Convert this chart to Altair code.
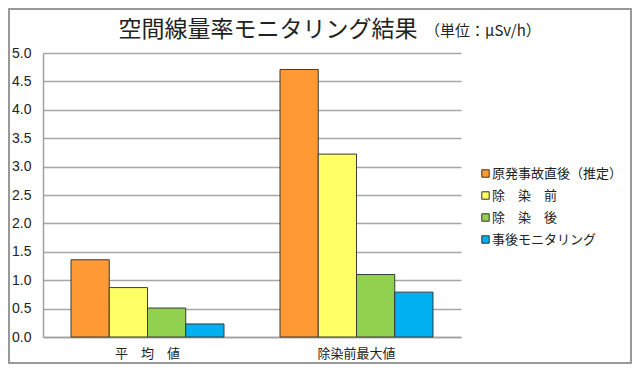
import altair as alt
import pandas as pd

categories = ["平　均　値", "除染前最大値"]
series = ["原発事故直後（推定）", "除　染　前", "除　染　後", "事後モニタリング"]
values_accident = [1.36, 4.71]
values_before = [0.87, 3.22]
values_after = [0.51, 1.10]
values_monitoring = [0.23, 0.79]
colors = ["#FF9933", "#FFFF66", "#92D050", "#00B0F0"]

all_values = [values_accident, values_before, values_after, values_monitoring]
rows = []
for s, vals in zip(series, all_values):
    for c, v in zip(categories, vals):
        rows.append({"category": c, "series": s, "value": v})
df = pd.DataFrame(rows)

JP = "Noto Sans CJK JP"
W, H = 418, 284

bars = alt.Chart(df).mark_bar(stroke="#3a3a3a", strokeWidth=1).encode(
    x=alt.X("category:N", sort=categories, title=None,
            scale=alt.Scale(paddingInner=0.268, paddingOuter=0.134),
            axis=alt.Axis(labelAngle=0, labelFont=JP, labelFontSize=13, labelColor="#222",
                          labelPadding=10, ticks=False, domainColor="#A0A0A0", domainWidth=1.5)),
    xOffset=alt.XOffset("series:N", sort=series, scale=alt.Scale(paddingInner=0, paddingOuter=0)),
    y=alt.Y("value:Q", title=None,
            scale=alt.Scale(domain=[0, 5]),
            axis=alt.Axis(values=[0, 0.5, 1, 1.5, 2, 2.5, 3, 3.5, 4, 4.5, 5], format=".1f",
                          labelFont="Liberation Sans", labelFontSize=14, labelColor="#222",
                          labelPadding=12, ticks=False, gridColor="#A6A6A6", gridWidth=1.5,
                          domainColor="#A0A0A0", domainWidth=1.5)),
    color=alt.Color("series:N", sort=series,
                    scale=alt.Scale(domain=series, range=colors),
                    legend=alt.Legend(title=None, orient="none", legendX=436, legendY=114,
                                      symbolType="square", symbolSize=55,
                                      symbolStrokeColor="#333", symbolStrokeWidth=1,
                                      labelFont=JP, labelFontSize=13, labelColor="#222",
                                      labelOffset=0, rowPadding=8)),
)

title_df = pd.DataFrame({"t": ["空間線量率モニタリング結果"]})
unit_df = pd.DataFrame({"t": ["（単位：μSv/h）"]})
frame_df = pd.DataFrame({"k": [0]})

title = alt.Chart(title_df).mark_text(font=JP, fontSize=23, color="#222", baseline="middle",
                                      align="center").encode(
    text="t:N", x=alt.value(225), y=alt.value(-23))
unit = alt.Chart(unit_df).mark_text(font=JP, fontSize=15, color="#222", baseline="middle",
                                    align="left").encode(
    text="t:N", x=alt.value(382), y=alt.value(-22))
frame = alt.Chart(frame_df).mark_rect(fill=None, stroke="#999999", strokeWidth=2).encode(
    x=alt.value(-34), x2=alt.value(588), y=alt.value(-44), y2=alt.value(310))

chart = alt.layer(bars, title, unit, frame).properties(
    width=W, height=H,
    autosize=alt.AutoSizeParams(type="none"),
    padding={"left": 35, "top": 45, "right": 171, "bottom": 27},
).configure_view(stroke=None)

chart.save("out.html", embed_options={"renderer": "svg", "actions": False})
